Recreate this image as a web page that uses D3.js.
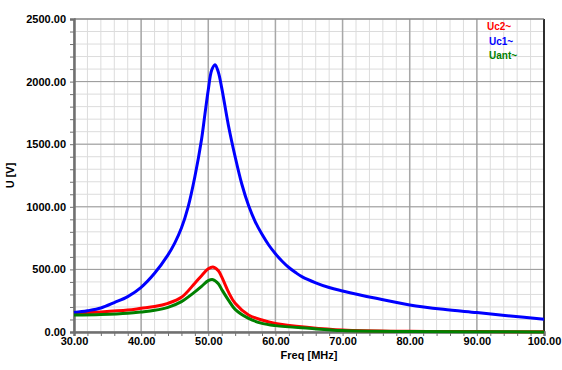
<!DOCTYPE html>
<html>
<head>
<meta charset="utf-8">
<script src="https://cdn.jsdelivr.net/npm/d3@7"></script>
<style>
  body { margin: 0; background: #fff; }
  text { font-family: "Liberation Sans", Arial, sans-serif; font-weight: bold; }
</style>
</head>
<body>
<div id="chart"></div>
<script>
// values
const freqC1 = [30, 32, 34, 36, 38, 40, 42, 44, 45, 46, 47, 48, 49, 49.5, 50, 50.5, 51, 51.5, 52, 53, 54, 55, 56, 57, 58, 59, 60, 61, 62, 63, 64, 66, 68, 70, 75, 80, 85, 90, 95, 100];
const uc1 = [155, 170, 192, 235, 283, 357, 469, 616, 710, 830, 1000, 1240, 1540, 1740, 1935, 2090, 2135, 2075, 1950, 1650, 1400, 1180, 1010, 880, 780, 695, 625, 565, 515, 475, 440, 393, 355, 328, 269, 216, 181, 155, 128, 101];

const freqC2 = [30, 34, 38, 40, 42, 44, 46, 48, 49, 50, 50.7, 51.5, 52, 53, 54, 56, 58, 60, 65, 70, 80, 90, 100];
const uc2 = [150, 160, 175, 189, 203, 229, 277, 390, 450, 505, 520, 490, 440, 320, 229, 136, 96, 69, 37, 16, 5, 3, 2];
const uant = [135, 140, 150, 160, 173, 197, 243, 320, 365, 410, 418, 385, 340, 255, 181, 109, 69, 51, 29, 11, 3, 2, 1];

const seriesNames = ["Uc2~", "Uc1~", "Uant~"];
const seriesColors = ["#ff0000", "#0000ff", "#008000"];
const xTicks = [30, 40, 50, 60, 70, 80, 90, 100];
const yTicks = [0, 500, 1000, 1500, 2000, 2500];

const margin = {top: 19, right: 18, bottom: 38, left: 74},
    width = 562 - margin.left - margin.right,
    height = 370 - margin.top - margin.bottom;

const svg = d3.select("#chart")
  .append("svg")
    .attr("width", 562)
    .attr("height", 370)
  .append("g")
    .attr("transform", `translate(${margin.left},${margin.top})`);

const x = d3.scaleLinear().domain([30, 100]).range([0, width]);
const y = d3.scaleLinear().domain([0, 2500]).range([height, 0]);

// minor grid
const xMinor = d3.range(30, 100.01, 2);
const yMinor = d3.range(0, 2500.01, 100);
svg.append("g").selectAll("line").data(xMinor).join("line")
    .attr("x1", d => x(d)).attr("x2", d => x(d))
    .attr("y1", 0).attr("y2", height)
    .attr("stroke", "#dcdcdc");
svg.append("g").selectAll("line").data(yMinor).join("line")
    .attr("x1", 0).attr("x2", width)
    .attr("y1", d => y(d)).attr("y2", d => y(d))
    .attr("stroke", "#dcdcdc");

// major grid
svg.append("g").selectAll("line").data(xTicks).join("line")
    .attr("x1", d => x(d)).attr("x2", d => x(d))
    .attr("y1", 0).attr("y2", height)
    .attr("stroke", "#a8a8a8").attr("stroke-width", 1.5);
svg.append("g").selectAll("line").data(yTicks).join("line")
    .attr("x1", 0).attr("x2", width)
    .attr("y1", d => y(d)).attr("y2", d => y(d))
    .attr("stroke", "#999");

// frame
svg.append("line").attr("x1", width).attr("x2", width).attr("y1", 0).attr("y2", height)
    .attr("stroke", "#000").attr("stroke-width", 1.5);
svg.append("line").attr("x1", 0).attr("x2", width).attr("y1", 0).attr("y2", 0)
    .attr("stroke", "#808080");

// axes
const yAxis = svg.append("g")
    .call(d3.axisLeft(y).tickValues(yMinor).tickSize(4).tickFormat(d => yTicks.includes(d) ? d.toFixed(2) : ""));
yAxis.select(".domain").attr("stroke", "#707070").attr("stroke-width", 2.5);
yAxis.selectAll(".tick line").attr("stroke", "#707070");
yAxis.selectAll("text").attr("font-size", 11).attr("fill", "#000").attr("dx", "-1");

const xAxis = svg.append("g")
    .attr("transform", `translate(0,${height})`)
    .call(d3.axisBottom(x).tickValues(xMinor).tickSize(4).tickFormat(d => xTicks.includes(d) ? d.toFixed(2) : ""));
xAxis.select(".domain").attr("stroke", "#707070").attr("stroke-width", 2.5);
xAxis.selectAll(".tick line").attr("stroke", "#707070");
xAxis.selectAll("text").attr("font-size", 11).attr("fill", "#000").attr("dy", "0.55em");

// axis titles
svg.append("text")
    .attr("x", width / 2)
    .attr("y", height + 27)
    .attr("text-anchor", "middle")
    .attr("font-size", 11)
    .text("Freq [MHz]");
svg.append("text")
    .attr("transform", `translate(${-60},${y(1250)}) rotate(-90)`)
    .attr("text-anchor", "middle")
    .attr("font-size", 11)
    .text("U [V]");

// curves
const line = d3.line()
    .x(d => x(d[0]))
    .y(d => y(d[1]))
    .curve(d3.curveCatmullRom.alpha(0.5));

const series = [
  {name: seriesNames[0], pts: d3.zip(freqC2, uc2)},
  {name: seriesNames[1], pts: d3.zip(freqC1, uc1)},
  {name: seriesNames[2], pts: d3.zip(freqC2, uant)}
];
const color = d3.scaleOrdinal().domain(seriesNames).range(seriesColors);

svg.append("g").selectAll("path")
  .data(series)
  .join("path")
    .attr("d", d => line(d.pts))
    .attr("fill", "none")
    .attr("stroke", d => color(d.name))
    .attr("stroke-width", 3);

// legend
svg.append("g").selectAll("text")
  .data(seriesNames)
  .join("text")
    .attr("x", (d, i) => i === 0 ? 413 : 415)
    .attr("y", (d, i) => 11 + i * 14.5)
    .attr("font-size", 10)
    .attr("fill", d => color(d))
    .text(d => d);
</script>
</body>
</html>
